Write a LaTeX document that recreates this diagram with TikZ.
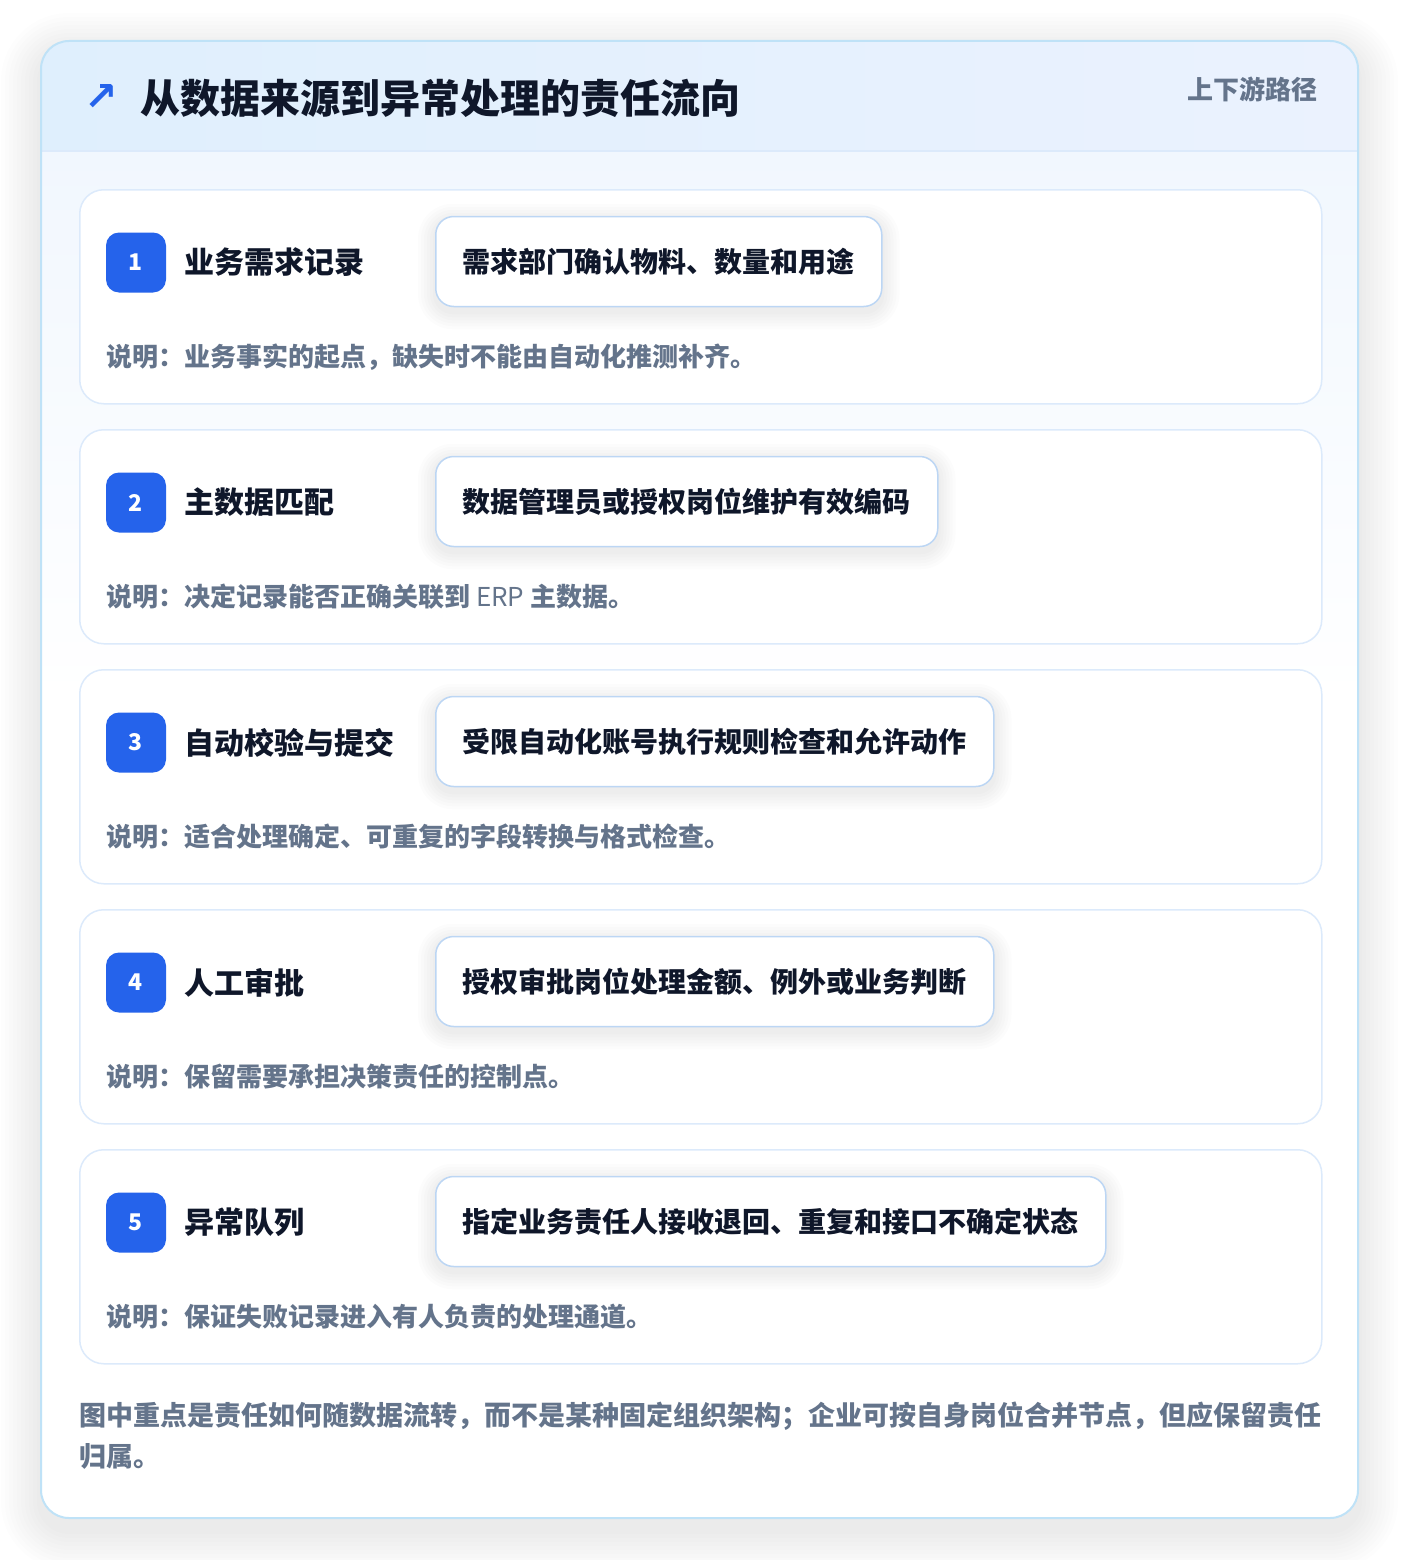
\documentclass[tikz,border=0pt]{standalone}
\usepackage{fontspec}
\setmainfont{Noto Sans CJK SC}
\newfontfamily\symfont{DejaVu Sans}
\usetikzlibrary{positioning,calc,backgrounds}
\pgfdeclarelayer{shade}
\pgfsetlayers{background,shade,main}
\definecolor{inkdark}{HTML}{0F172A}
\definecolor{inkgray}{HTML}{64748B}
\definecolor{badgeblue}{HTML}{2563EB}
\definecolor{cardline}{HTML}{DCEAFB}
\definecolor{boxline}{HTML}{BCD6F4}
\definecolor{frameline}{HTML}{BFE2F7}
\definecolor{headl}{HTML}{DFEFFD}
\definecolor{headr}{HTML}{EBF2FE}
\definecolor{bodytop}{HTML}{F1F7FE}

\begin{document}
\begin{tikzpicture}[x=1pt,y=-1pt,
        stepcard/.style={draw=cardline, line width=1.5pt, fill=white, rounded corners=24pt,
            minimum width=1242pt, minimum height=214pt, anchor=north west},
        badge/.style={fill=badgeblue, rounded corners=13pt, minimum size=60pt, inner sep=0pt,
            text=white, font=\bfseries\fontsize{23}{23}\selectfont},
        steptitle/.style={text=inkdark, inner sep=0pt, font=\bfseries\fontsize{30}{30}\selectfont},
        actbox/.style={draw=boxline, line width=1.5pt, fill=white, rounded corners=18pt,
            minimum height=90pt, inner xsep=27pt, anchor=west, text=inkdark,
            font=\bfseries\fontsize{28}{28}\selectfont},
        softshade/.style={fill=black, opacity=0.011},
        desc/.style={anchor=west, inner sep=0pt, text=inkgray, font=\bfseries\fontsize{26}{26}\selectfont}
    ]
    \useasboundingbox (0,0) rectangle (1400,1560);

    % (1) Outer frame with header band
    \begin{pgfonlayer}{background}
        \fill[white] (0,0) rectangle (1400,1560);
        \foreach \s in {4,8,...,40}
            \fill[softshade, opacity=0.007, rounded corners=28+\s] (41-\s,41-\s+12) rectangle (1358+\s,1518+\s+12);
        \fill[white, rounded corners=28pt] (41,41) rectangle (1358,1518);
        \begin{scope}
            \clip[rounded corners=28pt] (41,41) rectangle (1358,1518);
            \fill[top color=bodytop, bottom color=white] (41,151) rectangle (1358,700);
            \fill[left color=headl, right color=headr] (41,41) rectangle (1358,151);
            \draw[cardline, line width=1.5pt] (41,151) -- (1358,151);
        \end{scope}
        \draw[frameline, line width=2pt, rounded corners=28pt] (41,41) rectangle (1358,1518);
    \end{pgfonlayer}

    % (2) Header texts
    \node[text=badgeblue, inner sep=0pt, font=\symfont\bfseries\fontsize{40}{40}\selectfont] (arrow) at (101,98) {↗};
    \node[anchor=west, inner sep=0pt, text=inkdark, font=\bfseries\fontsize{40}{40}\selectfont] (title) at (140,98)
        {从数据来源到异常处理的责任流向};
    \node[anchor=east, inner sep=0pt, text=inkgray, font=\bfseries\fontsize{26}{26}\selectfont] (path) at (1318,89)
        {上下游路径};

    % (3) The five steps
    \foreach \n/\ttl/\act/\txt [evaluate={\cardy=189+240*(\n-1);}] in {
        1/业务需求记录/需求部门确认物料、数量和用途/说明：业务事实的起点，缺失时不能由自动化推测补齐。,
        2/主数据匹配/数据管理员或授权岗位维护有效编码/说明：决定记录能否正确关联到 {\mdseries ERP} 主数据。,
        3/自动校验与提交/受限自动化账号执行规则检查和允许动作/说明：适合处理确定、可重复的字段转换与格式检查。,
        4/人工审批/授权审批岗位处理金额、例外或业务判断/说明：保留需要承担决策责任的控制点。,
        5/异常队列/指定业务责任人接收退回、重复和接口不确定状态/说明：保证失败记录进入有人负责的处理通道。} {
        \begin{pgfonlayer}{background}
            \node[stepcard] (card\n) at (79,\cardy) {};
        \end{pgfonlayer}
        \node[badge] (badge\n) at (136,\cardy+73.5) {\n};
        \node[steptitle, right=18pt of badge\n] (name\n) {\ttl};
        \node[actbox] (act\n) at (435,\cardy+72.5) {\act};
        \begin{pgfonlayer}{shade}
            \foreach \s in {2,5,...,17}
                \fill[softshade, rounded corners=18+\s]
                    ($(act\n.south west)+(-\s,\s+5)$) rectangle ($(act\n.north east)+(\s,-\s+5)$);
        \end{pgfonlayer}
        \node[desc] (desc\n) at (106,\cardy+168) {\txt};
    }

    % (4) Footer note
    \node[anchor=west, align=left, inner sep=0pt, text=inkgray,
        font=\bfseries\fontsize{27}{41}\selectfont] (note) at (79,1435.5)
        {图中重点是责任如何随数据流转，而不是某种固定组织架构；企业可按自身岗位合并节点，但应保留责任\\归属。};
\end{tikzpicture}
\end{document}
